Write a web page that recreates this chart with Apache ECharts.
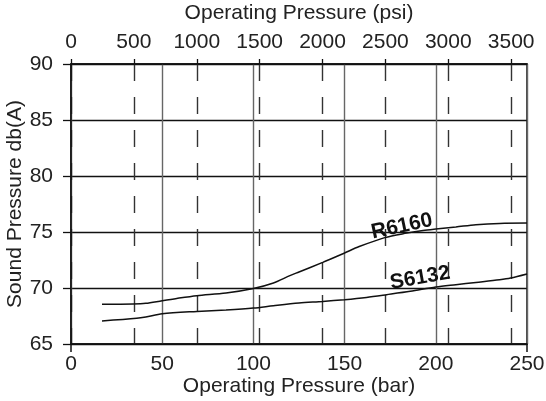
<!DOCTYPE html>
<html>
<head>
<meta charset="utf-8">
<script src="https://cdn.jsdelivr.net/npm/echarts@6/dist/echarts.min.js"></script>
<style>html,body{margin:0;padding:0;background:#fff}#c{width:546px;height:401px}</style>
</head>
<body>
<div id="c"></div>
<script>
// Data (bar on bottom axis, dB(A) on left axis)
const r6160Bar = [17, 34, 41, 50, 58, 69, 85, 100, 111, 120, 125, 138, 150, 158, 172, 184, 193, 200, 211, 222, 235, 250];
const r6160Db  = [68.55, 68.57, 68.63, 68.87, 69.07, 69.31, 69.55, 69.96, 70.45, 71.1, 71.43, 72.29, 73.13, 73.7, 74.5, 74.9, 75.14, 75.27, 75.45, 75.65, 75.77, 75.8];
const s6132Bar = [17, 36, 41, 50, 69, 85, 100, 111, 125, 138, 150, 162, 173, 186, 200, 211, 222, 235, 241, 250];
const s6132Db  = [67.05, 67.29, 67.41, 67.7, 67.91, 68.04, 68.21, 68.42, 68.66, 68.8, 68.96, 69.16, 69.4, 69.7, 70.09, 70.3, 70.5, 70.74, 70.89, 71.25];
const seriesNames = ['R6160', 'S6132'];
const labelAnchorR = [181.4, 75.5];
const labelAnchorS = [191.4, 70.9];
const barTicks = [0, 50, 100, 150, 200, 250];
const barEdgeTicks = [0, 250];
const psiTicks = [0, 500, 1000, 1500, 2000, 2500, 3000, 3500];
const dbTicks = [65, 70, 75, 80, 85, 90];
const PSI_PER_BAR = 14.5038;

const FONT = 'Liberation Sans, Arial, sans-serif';
const TXT = '#222';
const chart = echarts.init(document.getElementById('c'), null, {renderer: 'canvas'});

const zip = (a, b) => a.map((v, i) => [v, b[i]]);
const plain = v => String(Math.round(v));

chart.setOption({
  animation: false,
  textStyle: {fontFamily: FONT},
  grid: [
    {left: 71, top: 64, width: 456, height: 280, show: true, borderColor: '#111', borderWidth: 1.5,
     containLabel: false, outerBoundsMode: 'none'},
    {left: 71, top: 64, width: 456, height: 280, containLabel: false, outerBoundsMode: 'none'}
  ],
  xAxis: [
    {
      type: 'value', gridIndex: 0, position: 'bottom', min: 0, max: 250, interval: 50,
      axisLine: {show: true, lineStyle: {color: '#111', width: 1.5}},
      axisTick: {show: false},
      axisLabel: {color: TXT, fontSize: 21, margin: 10, fontFamily: FONT, customValues: barTicks, formatter: plain},
      splitLine: {show: true, lineStyle: {color: '#666', width: 1.4}},
      name: 'Operating Pressure (bar)', nameLocation: 'middle', nameGap: 32, nameMoveOverlap: false,
      nameTextStyle: {color: TXT, fontSize: 21, fontFamily: FONT}
    },
    {
      type: 'value', gridIndex: 0, position: 'top', min: 0, max: 250 * PSI_PER_BAR, interval: 500,
      axisLine: {show: true, lineStyle: {color: '#111', width: 1.5}},
      axisTick: {show: true, length: 5, lineStyle: {color: '#111', width: 1.3}, customValues: psiTicks},
      axisLabel: {color: TXT, fontSize: 21, margin: 11, fontFamily: FONT, customValues: psiTicks, formatter: plain},
      splitLine: {show: true, lineStyle: {color: '#333', width: 1.4, type: [17, 16]}},
      name: 'Operating Pressure (psi)', nameLocation: 'middle', nameGap: 40, nameMoveOverlap: false,
      nameTextStyle: {color: TXT, fontSize: 21, fontFamily: FONT}
    },
    {
      type: 'value', gridIndex: 1, position: 'bottom', min: 0, max: 250,
      axisLine: {show: false},
      axisTick: {show: true, length: 8, lineStyle: {color: '#111', width: 1.5}, customValues: barEdgeTicks},
      axisLabel: {show: false},
      splitLine: {show: false}
    }
  ],
  yAxis: [
    {
      type: 'value', gridIndex: 0, min: 65, max: 90, interval: 5,
      axisLine: {show: true, lineStyle: {color: '#111', width: 1.5}},
      axisTick: {show: true, length: 8, lineStyle: {color: '#111', width: 1.3}},
      axisLabel: {color: TXT, fontSize: 21, margin: 18, fontFamily: FONT, customValues: dbTicks, formatter: plain},
      splitLine: {show: true, lineStyle: {color: '#111', width: 1.3}},
      name: 'Sound Pressure db(A)', nameLocation: 'middle', nameGap: 45, nameMoveOverlap: false,
      nameTextStyle: {color: TXT, fontSize: 21, fontFamily: FONT}
    },
    {
      type: 'value', gridIndex: 1, min: 65, max: 90, show: false
    }
  ],
  series: [
    {
      name: seriesNames[0], type: 'line', xAxisIndex: 0, yAxisIndex: 0,
      data: zip(r6160Bar, r6160Db), smooth: 0.3, showSymbol: false,
      lineStyle: {color: '#111', width: 1.5}, z: 5
    },
    {
      name: seriesNames[1], type: 'line', xAxisIndex: 0, yAxisIndex: 0,
      data: zip(s6132Bar, s6132Db), smooth: 0.3, showSymbol: false,
      lineStyle: {color: '#111', width: 1.5}, z: 5
    },
    {
      type: 'scatter', xAxisIndex: 0, yAxisIndex: 0, symbolSize: 2,
      itemStyle: {color: 'rgba(255,255,255,0)'},
      data: [
        {value: labelAnchorR, name: seriesNames[0], label: {rotate: 12}},
        {value: labelAnchorS, name: seriesNames[1], label: {rotate: 10}}
      ],
      label: {show: true, position: 'inside', formatter: p => p.name, color: '#111', opacity: 1,
              textBorderWidth: 0, fontSize: 21, fontWeight: 'bold', fontFamily: FONT},
      labelLayout: {hideOverlap: false},
      z: 6, silent: true
    }
  ]
});
</script>
</body>
</html>
